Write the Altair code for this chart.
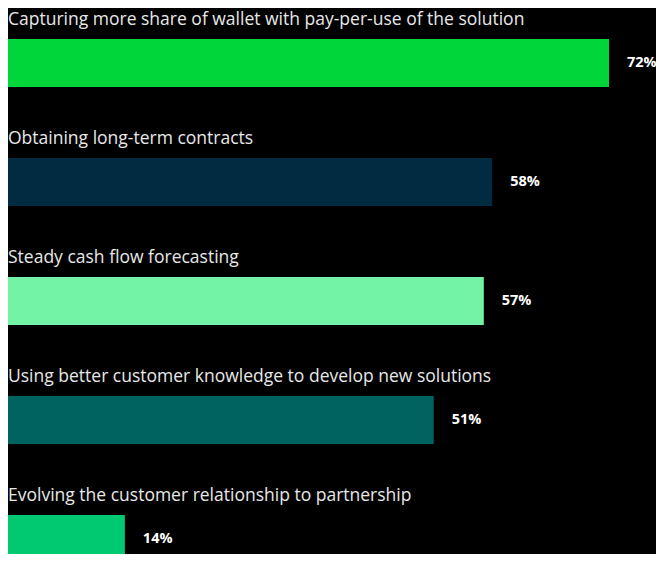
import altair as alt
import pandas as pd

categories = [
    "Capturing more share of wallet with pay-per-use of the solution",
    "Obtaining long-term contracts",
    "Steady cash flow forecasting",
    "Using better customer knowledge to develop new solutions",
    "Evolving the customer relationship to partnership",
]
values = [72, 58, 57, 51, 14]
colors = ["#00d639", "#002b40", "#73f3a6", "#00635f", "#00c972"]

df = pd.DataFrame({"cat": categories, "val": values, "color": colors})
df["lbl"] = df["val"].astype(str) + "%"

y = alt.Y("cat:N", sort=categories, axis=None,
          scale=alt.Scale(domain=categories, range=[-4.5, 590.5], paddingInner=0, paddingOuter=0))
x = alt.X("val:Q", axis=None, scale=alt.Scale(domain=[0, 72], range=[0, 601]))

base = alt.Chart(df)

bars = base.mark_bar(height=48).encode(
    x=x, y=y, color=alt.Color("color:N", scale=None), tooltip=["cat", "val"]
)

cat_text = base.mark_text(align="left", baseline="alphabetic", dy=-38, fontSize=17.5,
                          font="Open Sans", color="#e8e8e8").encode(
    x=alt.value(0), y=y, text="cat:N"
)

val_text = base.mark_text(align="left", baseline="middle", dx=18, fontSize=14.5,
                          font="Open Sans", fontWeight="bold", color="#ffffff").encode(
    x=x, y=y, text="lbl:N"
)

chart = (bars + cat_text + val_text).properties(
    width=648, height=546, background="#000000", padding=0,
    autosize=alt.AutoSizeParams(type="none")
).configure_view(stroke=None)

chart.save("out.html", embed_options={"renderer": "svg", "actions": False})
